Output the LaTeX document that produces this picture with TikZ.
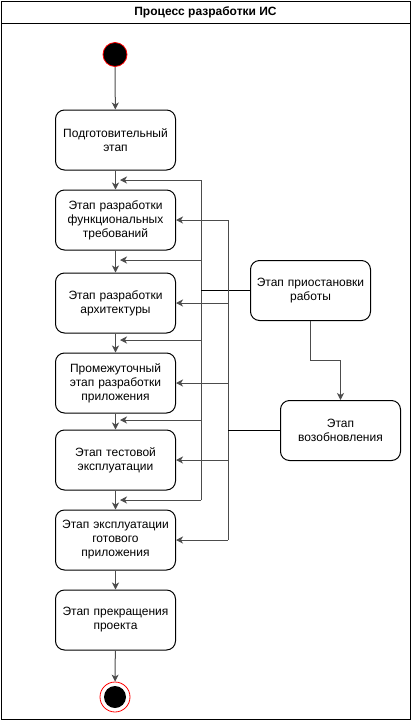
\documentclass[tikz,border=0pt]{standalone}
\usepackage{fontspec}
\setmainfont{Liberation Sans}
\usetikzlibrary{arrows.meta}
\tikzset{
  stage/.style={draw=black, line width=1pt, rounded corners=9pt, minimum width=120pt, minimum height=60pt,
    text width=116pt, align=center, font=\fontsize{12}{14}\selectfont, inner sep=0pt},
  conn/.style={draw=black!70, line width=1pt},
  flow/.style={conn, -{Stealth[length=7pt,width=7pt,inset=2pt]}},
  solidconn/.style={draw=black, line width=1pt},
}
\begin{document}
\begin{tikzpicture}[x=1pt,y=-1pt]
\useasboundingbox (0,0) rectangle (412,721);
% frame
\node[draw=black, line width=1pt, minimum width=409pt, minimum height=718pt, inner sep=0pt, anchor=north west] (frame) at (1,1) {};
\coordinate (hl) at (1,23.5);
\coordinate (hr) at (410,23.5);
\draw[line width=1pt] (hl) -- (hr);
\node[font=\fontsize{12}{14}\selectfont\bfseries] (title) at (205.5,12.5) {Процесс разработки ИС};

% start / end
\node[circle, fill=black, draw=red, line width=0.8pt, minimum size=24pt, inner sep=0pt] (start) at (115,54.5) {};
\node[circle, draw=red, line width=0.8pt, minimum size=30pt, inner sep=0pt] (endo) at (115,697) {};
\node[circle, fill=black, minimum size=22pt, inner sep=0pt] (endi) at (115,697) {};

% stages
\node[stage] (b1) at (115.5,140) {Подготовительный\\этап};
\node[stage] (b2) at (115.5,220) {Этап разработки\\функциональных\\требований};
\node[stage] (b3) at (115.5,303) {Этап разработки\\архитектуры};
\node[stage] (b4) at (115.5,383) {Промежуточный\\этап разработки\\приложения};
\node[stage] (b5) at (115.5,460) {Этап тестовой\\эксплуатации};
\node[stage] (b6) at (115.5,540) {Этап эксплуатации\\готового\\приложения};
\node[stage] (b7) at (115.5,620) {Этап прекращения\\проекта};
\node[stage] (pause) at (310.5,290.5) {Этап приостановки\\работы};
\node[stage] (resume) at (340.5,430.5) {Этап\\возобновления};

% main flow
\draw[flow] (start) -- (b1);
\draw[flow] (b1) -- (b2);
\draw[flow] (b2) -- (b3);
\draw[flow] (b3) -- (b4);
\draw[flow] (b4) -- (b5);
\draw[flow] (b5) -- (b6);
\draw[flow] (b6) -- (b7);
\draw[flow] (b7) -- (endo);

% bus from pause (x=201)
\coordinate (pa1) at (201,180);
\coordinate (pa2) at (201,260);
\coordinate (pa3) at (201,340);
\coordinate (pa4) at (201,420);
\coordinate (pa5) at (201,500);
\coordinate (ta1) at (120,180);
\coordinate (ta2) at (120,260);
\coordinate (ta3) at (120,340);
\coordinate (ta4) at (120,420);
\coordinate (ta5) at (120,500);
\draw[conn] (pa1) -- (pa5);
\draw[flow] (pa1) -- (ta1);
\draw[flow] (pa2) -- (ta2);
\draw[flow] (pa3) -- (ta3);
\draw[flow] (pa4) -- (ta4);
\draw[flow] (pa5) -- (ta5);
\draw[solidconn] (pause.west) -- (pause.west -| pa1);

% bus from resume (x=228)
\coordinate (ra1) at (228,220);
\coordinate (ra5) at (228,540);
\draw[conn] (ra1) -- (ra5);
\draw[flow] (ra1) -- (b2.east);
\draw[flow] (ra1 |- b3.east) -- (b3.east);
\draw[flow] (ra1 |- b4.east) -- (b4.east);
\draw[flow] (ra1 |- b5.east) -- (b5.east);
\draw[flow] (ra5) -- (b6.east);
\draw[solidconn] (resume.west) -- (resume.west -| ra1);

% pause -> resume
\draw[flow] (pause.south) -- ++(0,39) -| (resume.north);
\end{tikzpicture}
\end{document}
